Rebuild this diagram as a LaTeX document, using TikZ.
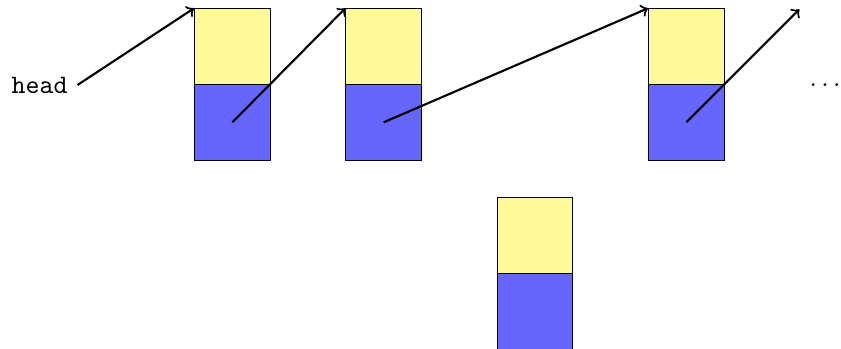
\documentclass[tikz,border=0pt]{standalone}
\begin{document}
\begin{tikzpicture}[thick]
\tikzset{cell/.style={draw=black, thin, minimum size=1cm, inner sep=0pt, anchor=south west}}
\useasboundingbox (-2.564,-3.476) rectangle (8.55,1.123);
\foreach \x/\y/\n in {0/0/a, 2/0/b, 6/0/c, 4/-2.5/d}
{
    \node[cell, fill=yellow!40](top\n) at (\x,\y) {};
    \node[cell, fill=blue!60](bot\n) at (\x,\y-1) {};
}
\node(head) at (-2.04,0) {\texttt{head}};
\node(dots) at (8.34,0) {$\ldots$};
\coordinate(next) at (8,1);

\draw[->](head.east)--(topa.north west);
\draw[->](bota.center)--(topb.north west);
\draw[->](botb.center)--(topc.north west);
\draw[->](botc.center)--(next);
\end{tikzpicture}
\end{document}
